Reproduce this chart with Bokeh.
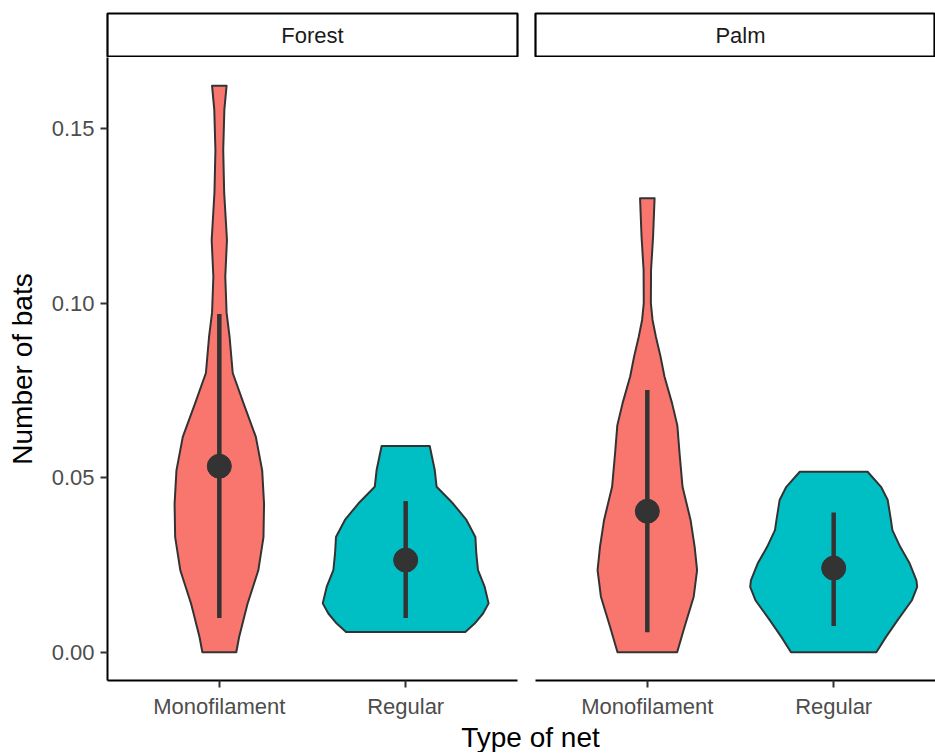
from bokeh.plotting import figure
from bokeh.layouts import column, row
from bokeh.models import Range1d, FixedTicker, Label, PrintfTickFormatter
from bokeh.core.properties import value
from bokeh.embed import file_html
from bokeh.resources import INLINE

# ---------------- data ----------------
habitats = ["Forest", "Palm"]
net_types = ["Monofilament", "Regular"]
net_positions = [1, 2]
net_colors = ["#F8766D", "#00BFC4"]

# violin outlines: y values and half-widths (in net-axis units)
forest_mono_y = [0.0000, 0.0043, 0.0138, 0.0234, 0.0330, 0.0425, 0.0521, 0.0617, 0.0713,
                 0.0800, 0.0904, 0.0973, 0.1076, 0.1181, 0.1318, 0.1439, 0.1554, 0.1623]
forest_mono_w = [0.091, 0.106, 0.151, 0.209, 0.237, 0.240, 0.230, 0.196, 0.130,
                 0.072, 0.055, 0.039, 0.032, 0.041, 0.026, 0.021, 0.027, 0.039]

forest_reg_y = [0.0058, 0.0082, 0.0111, 0.0140, 0.0187, 0.0235, 0.0283, 0.0330, 0.0379,
                0.0426, 0.0474, 0.0522, 0.0591]
forest_reg_w = [0.320, 0.370, 0.415, 0.445, 0.424, 0.388, 0.379, 0.374, 0.326,
                0.254, 0.166, 0.156, 0.129]

palm_mono_y = [0.0000, 0.0073, 0.0159, 0.0235, 0.0302, 0.0379, 0.0474, 0.0570, 0.0650,
               0.0713, 0.0790, 0.0847, 0.0904, 0.0952, 0.1000, 0.1095, 0.1191, 0.1301]
palm_mono_w = [0.160, 0.200, 0.249, 0.267, 0.254, 0.232, 0.189, 0.173, 0.161,
               0.133, 0.092, 0.071, 0.046, 0.028, 0.019, 0.020, 0.031, 0.039]

palm_reg_y = [0.0000, 0.0044, 0.0092, 0.0149, 0.0187, 0.0206, 0.0254, 0.0302, 0.0350,
              0.0379, 0.0436, 0.0474, 0.0517]
palm_reg_w = [0.229, 0.281, 0.343, 0.420, 0.448, 0.444, 0.408, 0.357, 0.315,
              0.307, 0.290, 0.254, 0.182]

# mean and interval per net type
forest_mean = [0.0533, 0.0264]
forest_lo = [0.0098, 0.0098]
forest_hi = [0.0969, 0.0433]
palm_mean = [0.0404, 0.0241]
palm_lo = [0.0057, 0.0075]
palm_hi = [0.0751, 0.0400]

y_ticks = [0.0, 0.05, 0.10, 0.15]

# ---------------- layout constants ----------------
FONT = "Liberation Sans"
FRAME_W = 410
FRAME_W_RIGHT = 400
FRAME_H = 623
UNIT = FRAME_W / 2.2
LEFT_B = 107
GAP = 9
BOTTOM_B = 41
STRIP_TOP = 13
STRIP_H = STRIP_TOP + 44
TITLE_H = 31

yr = Range1d(-0.0081, 0.1704)


def violin_patch(p, pos, ys, ws, color):
    xs = [pos + w for w in ws] + [pos - w for w in reversed(ws)]
    yy = list(ys) + list(reversed(ys))
    p.patch(xs, yy, fill_color=color, line_color="#333333", line_width=2,
            line_join="round")


def make_panel(profiles, means, los, his, width, lb, rb, x_end, show_y):
    p = figure(width=width, height=FRAME_H + BOTTOM_B,
               x_range=Range1d(0.4, x_end), y_range=yr,
               min_border_left=lb, min_border_right=rb,
               min_border_top=0, min_border_bottom=BOTTOM_B,
               y_axis_location="left" if show_y else None,
               output_backend="svg", toolbar_location=None)
    p.grid.visible = False
    p.outline_line_color = None
    p.background_fill_color = "white"
    p.border_fill_color = "white"

    for pos, (ys, ws), color in zip(net_positions, profiles, net_colors):
        violin_patch(p, pos, ys, ws, color)
    p.segment(x0=net_positions, y0=los, x1=net_positions, y1=his,
              line_color="#333333", line_width=4.5)
    p.scatter(x=net_positions, y=means, size=24, fill_color="#333333",
              line_color="#333333")

    xa = p.xaxis[0]
    xa.ticker = FixedTicker(ticks=net_positions)
    xa.major_label_overrides = {pos: name for pos, name in zip(net_positions, net_types)}
    xa.axis_line_color = "black"
    xa.axis_line_width = 2
    xa.major_tick_line_color = "#333333"
    xa.major_tick_line_width = 2
    xa.major_tick_out = 7
    xa.major_tick_in = 0
    xa.minor_tick_out = 0
    xa.minor_tick_in = 0
    xa.major_label_standoff = 6
    xa.major_label_text_font = FONT
    xa.major_label_text_font_size = "22px"
    xa.major_label_text_color = "#4D4D4D"

    if show_y:
        ya = p.yaxis[0]
        ya.ticker = FixedTicker(ticks=y_ticks)
        ya.formatter = PrintfTickFormatter(format="%.2f")
        ya.axis_line_color = "black"
        ya.axis_line_width = 2
        ya.major_tick_line_color = "#333333"
        ya.major_tick_line_width = 2
        ya.major_tick_out = 7
        ya.major_tick_in = 0
        ya.minor_tick_out = 0
        ya.minor_tick_in = 0
        ya.major_label_standoff = 6
        ya.major_label_text_font = FONT
        ya.major_label_text_font_size = "22px"
        ya.major_label_text_color = "#4D4D4D"
        ya.axis_label = "Number of bats"
        ya.axis_label_text_font = FONT
        ya.axis_label_text_font_size = "28px"
        ya.axis_label_text_font_style = "normal"
        ya.axis_label_text_color = "black"
        ya.axis_label_standoff = 11
    return p


def make_strip(label, width, lb, rb, x_end):
    s = figure(width=width, height=STRIP_H, x_range=Range1d(0.4, x_end),
               y_range=Range1d(0, 1),
               min_border_left=lb, min_border_right=rb,
               min_border_top=STRIP_TOP, min_border_bottom=0,
               x_axis_location=None, y_axis_location=None,
               output_backend="svg", toolbar_location=None)
    s.grid.visible = False
    s.background_fill_color = "white"
    s.border_fill_color = "white"
    s.outline_line_color = "black"
    s.outline_line_width = 2.2
    s.add_layout(Label(x=1.5, y=0.5, text=label, text_align="center",
                       text_baseline="middle", text_font=FONT,
                       text_font_size="22px", text_color="#1A1A1A"))
    return s


x_end_left = 2.6
x_end_right = 0.4 + FRAME_W_RIGHT / UNIT
w_left = LEFT_B + FRAME_W + GAP
w_right = GAP + FRAME_W_RIGHT

left = make_panel([(forest_mono_y, forest_mono_w), (forest_reg_y, forest_reg_w)],
                  forest_mean, forest_lo, forest_hi, w_left, LEFT_B, GAP, x_end_left, True)
right = make_panel([(palm_mono_y, palm_mono_w), (palm_reg_y, palm_reg_w)],
                   palm_mean, palm_lo, palm_hi, w_right, GAP, 0, x_end_right, False)

strip_left = make_strip(habitats[0], w_left, LEFT_B, GAP, x_end_left)
strip_right = make_strip(habitats[1], w_right, GAP, 0, x_end_right)

total_w = w_left + w_right
title_fig = figure(width=total_w, height=TITLE_H, x_range=Range1d(0, total_w),
                   y_range=Range1d(0, TITLE_H), min_border=0,
                   x_axis_location=None, y_axis_location=None,
                   output_backend="svg", toolbar_location=None)
title_fig.grid.visible = False
title_fig.outline_line_color = None
title_fig.background_fill_color = "white"
title_fig.border_fill_color = "white"
title_fig.text(x=[LEFT_B + (FRAME_W + GAP * 2 + 418) / 2], y=[TITLE_H - 16], text=["Type of net"],
               text_font=value(FONT), text_font_size="28px", text_align="center",
               text_baseline="middle", text_color="black")

layout = column(row(strip_left, strip_right), row(left, right), title_fig)

open("out.html", "w").write(file_html(layout, INLINE))
